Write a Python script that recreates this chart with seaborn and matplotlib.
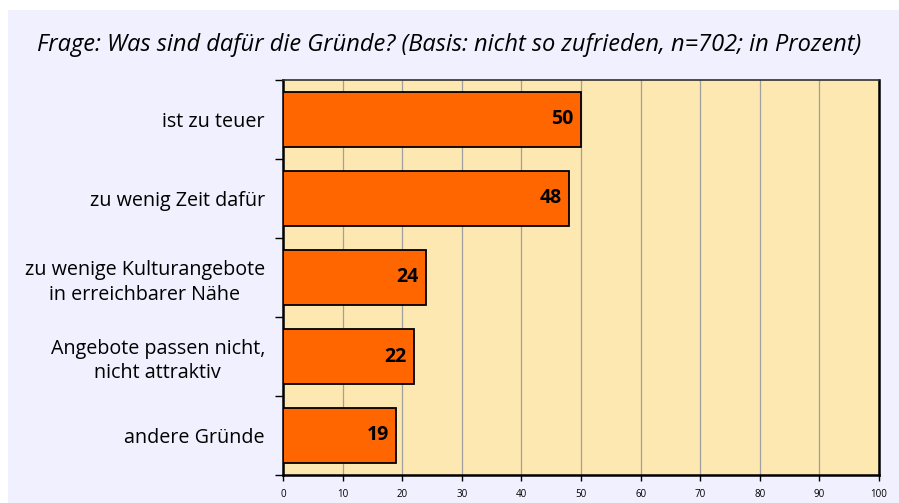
import matplotlib
matplotlib.use("Agg")
import matplotlib.pyplot as plt
import seaborn as sns
import pandas as pd
from matplotlib.patches import Rectangle

# Daten
gruende = ["ist zu teuer", "zu wenig Zeit dafür",
           "zu wenige Kulturangebote\nin erreichbarer Nähe",
           "Angebote passen nicht,\nnicht attraktiv", "andere Gründe"]
prozent = [50, 48, 24, 22, 19]
x_ticks = [0, 10, 20, 30, 40, 50, 60, 70, 80, 90, 100]
titel = "Frage: Was sind dafür die Gründe? (Basis: nicht so zufrieden, n=702; in Prozent)"

df = pd.DataFrame({"grund": gruende, "wert": prozent})

sns.set_style("white")
plt.rcParams["font.family"] = ["Open Sans", "DejaVu Sans"]
plt.rcParams["text.color"] = "black"
plt.rcParams["xtick.color"] = "black"
plt.rcParams["ytick.color"] = "black"

fig = plt.figure(figsize=(8.99, 5.03), dpi=100)
fig.patch.set_facecolor("white")
# lila Hintergrund-Panel
fig.patches.append(Rectangle((8 / 899, 0), 1, 1 - 10 / 503, transform=fig.transFigure,
                             facecolor="#F0F0FE", edgecolor="none", zorder=-10))

ax = fig.add_axes([283 / 899, 1 - 475 / 503, (879 - 283) / 899, (475 - 80) / 503])
ax.set_facecolor("#FDE8B1")

sns.barplot(data=df, x="wert", y="grund", orient="h", color="#FF6600",
            width=0.7, edgecolor="black", linewidth=1.3, saturation=1, ax=ax, zorder=3)

ax.set_xlim(0, 100)
ax.set_ylim(4.5, -0.5)
ax.set_xticks(x_ticks)
ax.set_xticklabels([str(t) for t in x_ticks], fontsize=7)
ax.grid(axis="x", color="#A0A0A0", linewidth=0.9, zorder=1)
ax.set_axisbelow(True)

# kleine Striche an Kategoriegrenzen
ax.set_yticks([i + 0.5 for i in range(-1, 5)], minor=True)
ax.set_yticks(range(len(gruende)))
ax.set_yticklabels(gruende, fontsize=14.2, multialignment="center", linespacing=1.3)
ax.tick_params(axis="y", which="major", length=0, pad=13)
ax.tick_params(axis="y", which="minor", length=6, width=1, color="black", left=True)
ax.tick_params(axis="x", length=4, width=1, color="black", bottom=True, pad=6)
ax.set_xlabel("")
ax.set_ylabel("")

for side in ["left", "bottom", "right"]:
    ax.spines[side].set_visible(True)
    ax.spines[side].set_color("black")
    ax.spines[side].set_linewidth(1.8)
ax.spines["top"].set_color("#303030")
ax.spines["top"].set_linewidth(1.2)

for i, v in enumerate(prozent):
    ax.text(v - 1.2, i, str(v), ha="right", va="center", fontsize=14,
            fontweight="bold", zorder=4)

fig.text(449 / 899, 1 - 45 / 503, titel, ha="center", va="center",
         fontsize=17, style="italic")

fig.savefig("out.png", dpi=100)
